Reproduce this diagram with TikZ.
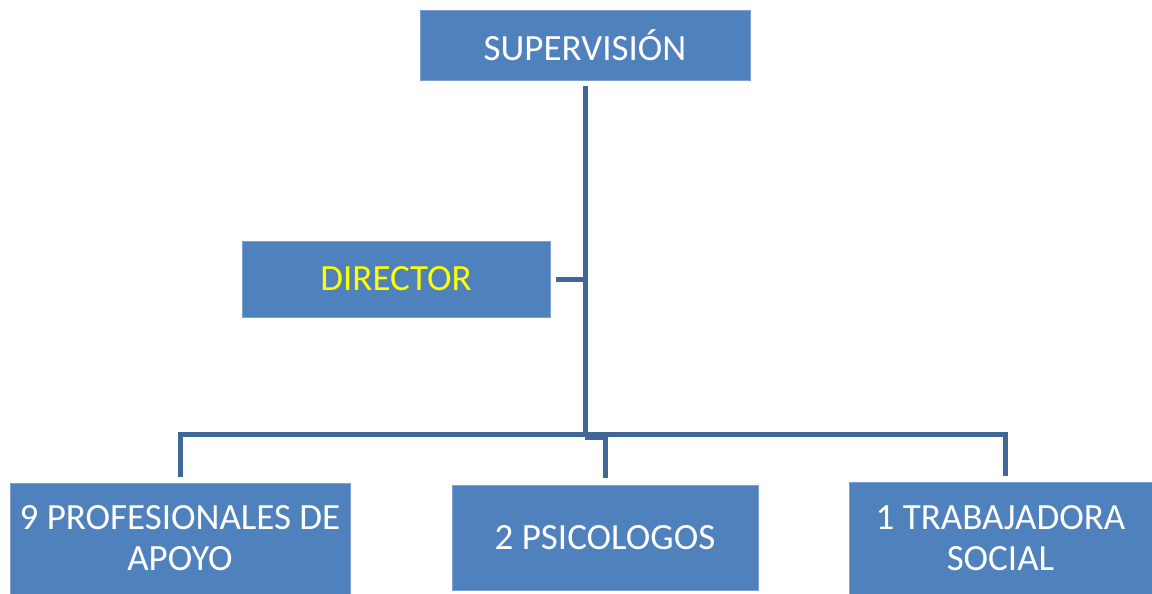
\documentclass[tikz,border=0pt]{standalone}
\usepackage{fontspec}
\setmainfont{Carlito}
\definecolor{boxblue}{HTML}{4F81BD}
\definecolor{boxedge}{HTML}{7FA0D0}
\definecolor{connblue}{HTML}{3F6797}
\definecolor{diryellow}{HTML}{FFFF00}
\begin{document}
\begin{tikzpicture}[x=1pt,y=-1pt,
  orgbox/.style={fill=boxblue,draw=boxedge,line width=0.8pt,inner sep=0pt,
     text=white,align=center,font=\fontsize{37}{41}\selectfont},
  conn/.style={draw=connblue,line width=5pt,line join=miter}]
\useasboundingbox (0,0) rectangle (1152,594);
\fill[white] (0,0) rectangle (1152,594);
\node[orgbox,minimum width=330pt,minimum height=70pt] (sup) at (585,45) {SUPERVISIÓN};
\node[orgbox,minimum width=308pt,minimum height=76pt,text=diryellow] (dir) at (396,279) {DIRECTOR};
\node[orgbox,minimum width=340pt,minimum height=111pt] (prof) at (180,538.5) {9 PROFESIONALES DE\\APOYO};
\node[orgbox,minimum width=306pt,minimum height=105pt] (psi) at (605,537.5) {2 PSICOLOGOS};
\node[orgbox,minimum width=303pt,minimum height=112pt] (tra) at (1000.5,538) {1 TRABAJADORA\\SOCIAL};
\coordinate (j) at (585,437);
\coordinate (hl) at (180,434);
\coordinate (hr) at (1005,434);
\coordinate (trtop) at ([yshift=6pt]tra.north);
\draw[conn] ([yshift=-6pt]sup.south) -- (j);
\draw[conn] ([xshift=6pt]dir.east) -- (dir.east -| j);
\draw[conn] ([yshift=6pt]prof.north) -- (hl) -- (hr) -- (hr |- trtop);
\draw[conn] (j) -- (j -| psi.north) -- ([yshift=7pt]psi.north);
\end{tikzpicture}
\end{document}
